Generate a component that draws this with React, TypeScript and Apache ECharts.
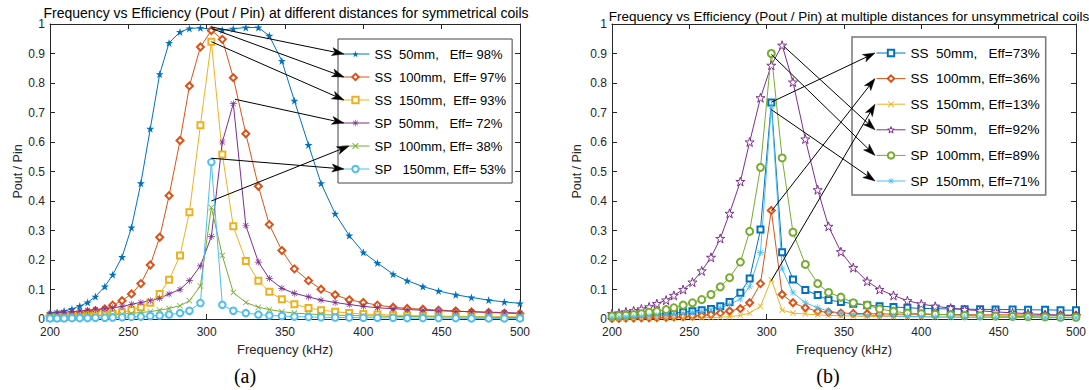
import React, { useEffect, useRef } from "react";
import * as echarts from "echarts";

const FREQ = [200, 204.5, 209, 214, 219, 224, 229, 235, 240, 246, 252, 258, 264, 270, 276, 283, 289, 296, 303, 310, 317, 325, 333, 340, 348, 356, 365, 373, 382, 391, 400, 409, 419, 428, 438, 448, 459, 469, 480, 490, 500];

// (a) symmetrical coils
const A_SS50 = [0.02, 0.022, 0.027, 0.034, 0.044, 0.056, 0.076, 0.11, 0.15, 0.21, 0.31, 0.46, 0.645, 0.83, 0.936, 0.973, 0.985, 0.987, 0.982, 0.98, 0.984, 0.988, 0.988, 0.96, 0.875, 0.74, 0.59, 0.46, 0.357, 0.283, 0.226, 0.19, 0.152, 0.13, 0.11, 0.095, 0.082, 0.073, 0.064, 0.058, 0.053];
const A_SS100 = [0.01, 0.011, 0.013, 0.016, 0.019, 0.023, 0.028, 0.034, 0.047, 0.062, 0.085, 0.12, 0.183, 0.277, 0.418, 0.605, 0.79, 0.922, 0.978, 0.948, 0.818, 0.628, 0.45, 0.32, 0.232, 0.17, 0.13, 0.101, 0.082, 0.065, 0.056, 0.047, 0.04, 0.036, 0.033, 0.03, 0.027, 0.024, 0.022, 0.02, 0.018];
const A_SS150 = [0.004, 0.005, 0.006, 0.007, 0.008, 0.01, 0.012, 0.014, 0.017, 0.022, 0.03, 0.04, 0.055, 0.085, 0.133, 0.215, 0.362, 0.657, 0.94, 0.558, 0.314, 0.197, 0.13, 0.092, 0.067, 0.05, 0.037, 0.03, 0.025, 0.02, 0.017, 0.015, 0.013, 0.012, 0.011, 0.01, 0.009, 0.009, 0.008, 0.008, 0.008];
const A_SP50 = [0.02, 0.021, 0.023, 0.025, 0.027, 0.03, 0.032, 0.035, 0.038, 0.042, 0.05, 0.056, 0.062, 0.07, 0.085, 0.1, 0.13, 0.18, 0.28, 0.6, 0.73, 0.317, 0.193, 0.137, 0.104, 0.087, 0.075, 0.064, 0.056, 0.049, 0.043, 0.038, 0.035, 0.032, 0.03, 0.028, 0.026, 0.025, 0.023, 0.022, 0.02];
const A_SP100 = [0.005, 0.006, 0.007, 0.008, 0.009, 0.01, 0.011, 0.013, 0.015, 0.017, 0.019, 0.022, 0.025, 0.03, 0.036, 0.045, 0.062, 0.112, 0.378, 0.215, 0.09, 0.056, 0.04, 0.032, 0.025, 0.02, 0.017, 0.015, 0.013, 0.012, 0.011, 0.01, 0.009, 0.008, 0.008, 0.007, 0.007, 0.006, 0.006, 0.005, 0.005];
const A_SP150 = [0.002, 0.002, 0.002, 0.003, 0.003, 0.003, 0.004, 0.004, 0.005, 0.006, 0.007, 0.008, 0.01, 0.012, 0.015, 0.02, 0.028, 0.054, 0.532, 0.048, 0.028, 0.02, 0.015, 0.012, 0.01, 0.008, 0.007, 0.006, 0.005, 0.005, 0.004, 0.004, 0.004, 0.003, 0.003, 0.003, 0.003, 0.002, 0.002, 0.002, 0.002];

// (b) unsymmetrical coils
const B_SS50 = [0.01, 0.011, 0.012, 0.013, 0.014, 0.015, 0.016, 0.018, 0.02, 0.023, 0.026, 0.03, 0.034, 0.043, 0.058, 0.089, 0.137, 0.303, 0.734, 0.226, 0.134, 0.098, 0.081, 0.064, 0.058, 0.052, 0.047, 0.043, 0.041, 0.038, 0.036, 0.035, 0.034, 0.033, 0.033, 0.032, 0.032, 0.031, 0.031, 0.03, 0.03];
const B_SS100 = [0.002, 0.002, 0.003, 0.003, 0.004, 0.004, 0.005, 0.006, 0.007, 0.008, 0.01, 0.012, 0.015, 0.02, 0.027, 0.035, 0.055, 0.12, 0.368, 0.083, 0.055, 0.038, 0.026, 0.023, 0.02, 0.019, 0.018, 0.017, 0.017, 0.016, 0.016, 0.015, 0.015, 0.015, 0.014, 0.014, 0.014, 0.013, 0.013, 0.013, 0.013];
const B_SS150 = [0.001, 0.001, 0.001, 0.002, 0.002, 0.002, 0.002, 0.003, 0.003, 0.003, 0.004, 0.004, 0.005, 0.006, 0.008, 0.012, 0.02, 0.043, 0.134, 0.03, 0.02, 0.017, 0.014, 0.012, 0.011, 0.01, 0.009, 0.008, 0.008, 0.007, 0.007, 0.007, 0.006, 0.006, 0.006, 0.006, 0.005, 0.005, 0.005, 0.005, 0.005];
const B_SP50 = [0.018, 0.02, 0.024, 0.028, 0.034, 0.041, 0.052, 0.064, 0.08, 0.1, 0.125, 0.163, 0.209, 0.273, 0.358, 0.466, 0.6, 0.75, 0.86, 0.928, 0.803, 0.61, 0.438, 0.314, 0.228, 0.174, 0.128, 0.1, 0.08, 0.062, 0.051, 0.043, 0.037, 0.032, 0.028, 0.024, 0.021, 0.018, 0.015, 0.013, 0.012];
const B_SP100 = [0.01, 0.011, 0.013, 0.015, 0.018, 0.023, 0.026, 0.032, 0.038, 0.047, 0.055, 0.066, 0.083, 0.109, 0.14, 0.193, 0.297, 0.514, 0.9, 0.546, 0.294, 0.185, 0.12, 0.09, 0.074, 0.055, 0.047, 0.034, 0.026, 0.02, 0.018, 0.016, 0.014, 0.012, 0.011, 0.01, 0.009, 0.008, 0.007, 0.006, 0.006];
const B_SP150 = [0.005, 0.006, 0.007, 0.008, 0.009, 0.01, 0.012, 0.013, 0.015, 0.018, 0.022, 0.026, 0.032, 0.038, 0.049, 0.068, 0.11, 0.225, 0.72, 0.17, 0.089, 0.055, 0.038, 0.027, 0.02, 0.016, 0.013, 0.011, 0.01, 0.009, 0.008, 0.007, 0.007, 0.006, 0.006, 0.005, 0.005, 0.005, 0.004, 0.004, 0.004];

const NAMES_A = ["SS  50mm,   Eff= 98%", "SS  100mm,  Eff= 97%", "SS  150mm,  Eff= 93%", "SP  50mm,   Eff= 72%", "SP  100mm, Eff= 38%", "SP   150mm, Eff= 53%"];
const NAMES_B = ["SS  50mm,   Eff=73%", "SS  100mm, Eff=36%", "SS  150mm, Eff=13%", "SP  50mm,   Eff=92%", "SP  100mm, Eff=89%", "SP  150mm, Eff=71%"];

const TITLE_A = "Frequency vs Efficiency (Pout / Pin) at different distances for symmetrical coils";
const TITLE_B = "Frequency vs Efficiency (Pout / Pin) at multiple distances for unsymmetrical coils";

// annotation arrow anchors (data space)
const ARROW_A = [[303, 0.99], [303, 0.985], [303, 0.94], [318, 0.745], [303, 0.4], [303, 0.545]];
const ARROW_B = [[303, 0.735], [303, 0.365], [303, 0.13], [311, 0.925], [303, 0.897], [303, 0.71]];

const COLORS = ["#0072BD", "#D95319", "#EDB120", "#7E2F8E", "#77AC30", "#4DBEEE"];
const FONT = '"Liberation Sans", Arial, sans-serif';
const AX = "#262626";

const STAR = "path://M0,-1 L0.2245,-0.309 L0.951,-0.309 L0.363,0.118 L0.588,0.809 L0,0.382 L-0.588,0.809 L-0.363,0.118 L-0.951,-0.309 L-0.2245,-0.309 Z";
const XMARK = "path://M-0.636,-0.778 L0.778,0.636 L0.636,0.778 L-0.778,-0.636 Z M0.636,-0.778 L0.778,-0.636 L-0.636,0.778 L-0.778,0.636 Z";
const ASTER = "path://M-0.09,-1 L0.09,-1 L0.09,1 L-0.09,1 Z M-1,-0.09 L1,-0.09 L1,0.09 L-1,0.09 Z M-0.636,-0.778 L0.778,0.636 L0.636,0.778 L-0.778,-0.636 Z M0.636,-0.778 L0.778,-0.636 L-0.636,0.778 L-0.778,0.636 Z";

const GRID_A = { left: 50, top: 24, width: 470, height: 295 };
const GRID_B = { left: 612, top: 24, width: 464, height: 295 };

function axesFor(gi: number, yName: string, yGap: number) {
  const line = { show: true, onZero: false, lineStyle: { color: AX, width: 1 } };
  const tick = { show: true, inside: true, length: 5, lineStyle: { color: AX } };
  const xBase = { gridIndex: gi, type: "value", min: 200, max: 500, interval: 50, splitLine: { show: false }, axisLine: line, axisTick: tick };
  const yBase = { gridIndex: gi, type: "value", min: 0, max: 1, interval: 0.1, splitLine: { show: false }, axisLine: line, axisTick: tick };
  return {
    x: [
      { ...xBase, position: "bottom", axisLabel: { color: AX, fontSize: 12, fontFamily: FONT, margin: 7 }, name: "Frequency (kHz)", nameLocation: "middle", nameGap: 23, nameTextStyle: { color: AX, fontSize: 13, fontFamily: FONT } },
      { ...xBase, position: "top", axisLabel: { show: false } },
    ],
    y: [
      { ...yBase, position: "left", axisLabel: { color: AX, fontSize: 12, fontFamily: FONT, margin: 5 }, name: yName, nameLocation: "middle", nameGap: yGap, nameTextStyle: { color: AX, fontSize: 12.5, fontFamily: FONT } },
      { ...yBase, position: "right", axisLabel: { show: false } },
    ],
  };
}

function mk(name: string, vals: number[], color: string, symbol: string, size: number, axis: number, hollow = false) {
  return {
    type: "line",
    name,
    xAxisIndex: axis,
    yAxisIndex: axis,
    data: FREQ.map((f, i) => [f, vals[i]]),
    symbol,
    symbolSize: size,
    showSymbol: true,
    color,
    lineStyle: { color, width: 1 },
    itemStyle: hollow ? { color: "#fff", borderColor: color, borderWidth: 1 } : { color, borderWidth: 1 },
    emphasis: { disabled: true },
    silent: true,
  };
}

const LEG_A = { left: 338, top: 39, pad: [8, 6, 7, 3], gap: 9, iw: 28, fs: 13 };
const LEG_B = { left: 852, top: 37, pad: [9, 6, 7, 24], gap: 11.6, iw: 29, fs: 13.5 };

function legendCfg(names: string[], L: any, border: string, bw: number) {
  return {
    data: names,
    orient: "vertical",
    left: L.left,
    top: L.top,
    padding: L.pad,
    itemGap: L.gap,
    itemWidth: L.iw,
    itemHeight: 8,
    borderColor: border,
    borderWidth: bw,
    backgroundColor: "#fff",
    selectedMode: false,
    lineStyle: { width: 1 },
    itemStyle: { borderWidth: 1 },
    textStyle: { fontSize: L.fs, fontFamily: FONT, color: "#000", lineHeight: 14 },
  };
}

function arrow(s: number[], t: number[]) {
  const dx = t[0] - s[0];
  const dy = t[1] - s[1];
  const len = Math.hypot(dx, dy);
  const ux = dx / len;
  const uy = dy / len;
  const hl = 12;
  const hw = 4;
  const bx = t[0] - ux * hl;
  const by = t[1] - uy * hl;
  const nx = t[0] - ux * hl * 0.75;
  const ny = t[1] - uy * hl * 0.75;
  return [
    { type: "line", z: 100, silent: true, shape: { x1: s[0], y1: s[1], x2: nx, y2: ny }, style: { stroke: "#000", lineWidth: 1 } },
    {
      type: "polygon", z: 101, silent: true,
      shape: { points: [[t[0], t[1]], [bx - uy * hw, by + ux * hw], [nx, ny], [bx + uy * hw, by - ux * hw]] },
      style: { fill: "#000", stroke: "#000", lineWidth: 0.5 },
    },
  ];
}

function textEl(text: string, x: number, y: number, font: string) {
  return {
    type: "text", x, y, z: 50, silent: true,
    style: { text, font, fill: "#000", align: "center", verticalAlign: "middle", textAlign: "center", textVerticalAlign: "middle" },
  };
}

export default function App() {
  const ref = useRef<HTMLDivElement>(null);
  useEffect(() => {
    if (!ref.current) return;
    const chart = echarts.init(ref.current, null, { renderer: "svg" });
    const aA = axesFor(0, "Pout / Pin", 26);
    const aB = axesFor(1, "Pout / Pin", 29);
    const option: any = {
      animation: false,
      backgroundColor: "#fff",
      grid: [GRID_A, GRID_B],
      xAxis: [...aA.x, ...aB.x],
      yAxis: [...aA.y, ...aB.y],
      legend: [legendCfg(NAMES_A, LEG_A, "#444", 1), legendCfg(NAMES_B, LEG_B, "#777", 1.5)],
      series: [
        mk(NAMES_A[0], A_SS50, COLORS[0], STAR, 8, 0),
        mk(NAMES_A[1], A_SS100, COLORS[1], "emptyDiamond", 7, 0),
        mk(NAMES_A[2], A_SS150, COLORS[2], "emptyRect", 6, 0),
        mk(NAMES_A[3], A_SP50, COLORS[3], ASTER, 7, 0),
        mk(NAMES_A[4], A_SP100, COLORS[4], XMARK, 6, 0),
        mk(NAMES_A[5], A_SP150, COLORS[5], "emptyCircle", 6.5, 0),
        mk(NAMES_B[0], B_SS50, COLORS[0], "emptyRect", 6, 2),
        mk(NAMES_B[1], B_SS100, COLORS[1], "emptyDiamond", 7, 2),
        mk(NAMES_B[2], B_SS150, COLORS[2], XMARK, 6, 2),
        mk(NAMES_B[3], B_SP50, COLORS[3], STAR, 9, 2, true),
        mk(NAMES_B[4], B_SP100, COLORS[4], "emptyCircle", 7, 2),
        mk(NAMES_B[5], B_SP150, COLORS[5], ASTER, 7, 2),
      ],
    };
    chart.setOption(option);

    const g: any[] = [
      textEl(TITLE_A, 286, 13, `14px ${FONT}`),
      textEl(TITLE_B, 849, 16, `13.5px ${FONT}`),
      textEl("(a)", 245, 376, `20px "Liberation Serif", "Times New Roman", serif`),
      textEl("(b)", 828, 376, `20px "Liberation Serif", "Times New Roman", serif`),
    ];
    const stepA = 14 + LEG_A.gap;
    ARROW_A.forEach((p, i) => {
      const s = chart.convertToPixel({ seriesIndex: 0 }, p) as number[];
      const tx = LEG_A.left + LEG_A.pad[3] + (i === 4 ? 8 : 3);
      const ty = LEG_A.top + LEG_A.pad[0] + 7 + i * stepA;
      g.push(...arrow(s, [tx, ty]));
    });
    const stepB = 14 + LEG_B.gap;
    ARROW_B.forEach((p, i) => {
      const s = chart.convertToPixel({ seriesIndex: 6 }, p) as number[];
      const tx = LEG_B.left + LEG_B.pad[3] - 1;
      const ty = LEG_B.top + LEG_B.pad[0] + 7 + i * stepB;
      g.push(...arrow(s, [tx, ty]));
    });
    chart.setOption({ graphic: g });
    return () => chart.dispose();
  }, []);
  return <div ref={ref} style={{ position: "absolute", left: 0, top: 0, width: 1089, height: 390 }} />;
}
